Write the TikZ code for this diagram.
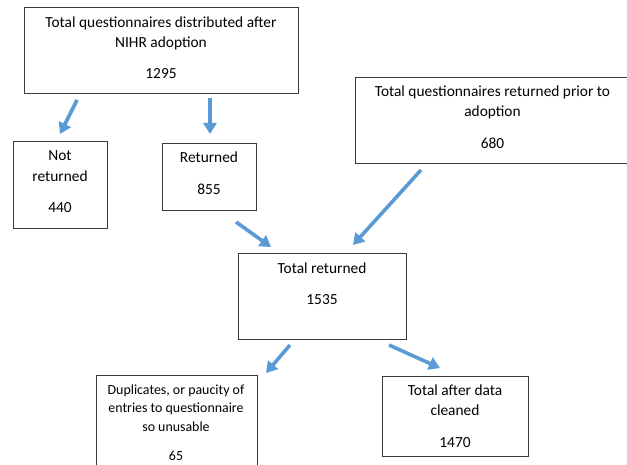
\documentclass[tikz,border=0pt]{standalone}
\usepackage{fontspec}
\setmainfont{Carlito}
\usetikzlibrary{arrows.meta}
\definecolor{arr}{HTML}{5B9BD5}
\definecolor{boxline}{HTML}{3A3A3A}
\begin{document}
\begin{tikzpicture}[x=1pt,y=-1pt,
  box/.style={draw=boxline, line width=0.9pt, inner sep=0pt, anchor=north west},
  lbl/.style={font=\fontsize{15.4}{20}\selectfont, inner sep=0pt, anchor=base},
  slbl/.style={font=\fontsize{13.9}{18}\selectfont, inner sep=0pt, anchor=base},
  flow/.style={draw=arr, line width=3.6pt, -{Triangle[length=11pt,width=13pt]}}]
\useasboundingbox (0,0) rectangle (627,465);
\clip (0,0) rectangle (627,465);
% boxes
\node[box, minimum width=274pt, minimum height=86pt] (top) at (24,7) {};
\node[box, minimum width=94pt, minimum height=87pt] (notret) at (13,141) {};
\node[box, minimum width=94pt, minimum height=67pt] (ret) at (162,143) {};
\node[box, minimum width=276pt, minimum height=86pt] (prior) at (355,77) {};
\node[box, minimum width=168pt, minimum height=86pt] (total) at (238,253) {};
\node[box, minimum width=161pt, minimum height=100pt] (dup) at (96,375) {};
\node[box, minimum width=146pt, minimum height=80pt] (clean) at (382,376) {};
% texts
\node[lbl] (top1) at (161,28) {Total questionnaires distributed after};
\node[lbl] (top2) at (161,48) {NIHR adoption};
\node[lbl] (top3) at (161,79) {1295};
\node[lbl] (nr1) at (60,161) {Not};
\node[lbl] (nr2) at (60,181.7) {returned};
\node[lbl] (nr3) at (60,213) {440};
\node[lbl] (r1) at (209,162.7) {Returned};
\node[lbl] (r2) at (209,195) {855};
\node[lbl] (p1) at (492.5,96.7) {Total questionnaires returned prior to};
\node[lbl] (p2) at (492.5,116.7) {adoption};
\node[lbl] (p3) at (492.5,148.3) {680};
\node[lbl] (t1) at (322,274) {Total returned};
\node[lbl] (t2) at (322,305) {1535};
\node[slbl] (d1) at (176,394) {Duplicates, or paucity of};
\node[slbl] (d2) at (176,412.5) {entries to questionnaire};
\node[slbl] (d3) at (176,431) {so unusable};
\node[slbl] (d4) at (176,460.5) {65};
\node[lbl] (c1) at (455,395.7) {Total after data};
\node[lbl] (c2) at (455,415) {cleaned};
\node[lbl] (c3) at (455,447.3) {1470};
% arrow ends
\coordinate (a1s) at (77,100);  \coordinate (a1e) at (60,134);
\coordinate (a2s) at (210,98);  \coordinate (a2e) at (210,134);
\coordinate (a3s) at (421,170); \coordinate (a3e) at (353,245);
\coordinate (a4s) at (236,222); \coordinate (a4e) at (271,247);
\coordinate (a5s) at (290,345); \coordinate (a5e) at (266,373);
\coordinate (a6s) at (389,345); \coordinate (a6e) at (440,368);
\draw[flow] (a1s) -- (a1e);
\draw[flow] (a2s) -- (a2e);
\draw[flow] (a3s) -- (a3e);
\draw[flow] (a4s) -- (a4e);
\draw[flow] (a5s) -- (a5e);
\draw[flow] (a6s) -- (a6e);
\end{tikzpicture}
\end{document}
